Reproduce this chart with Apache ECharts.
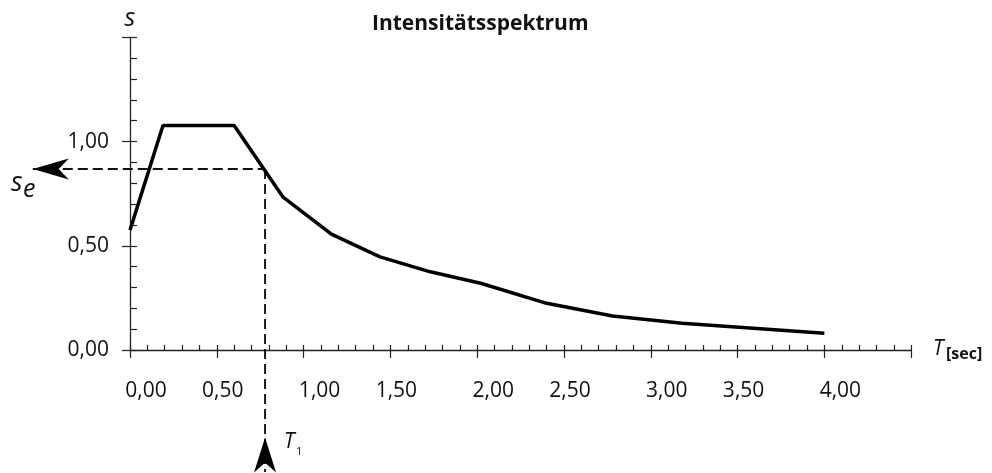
<!DOCTYPE html>
<html>
<head>
<meta charset="utf-8">
<script src="https://cdn.jsdelivr.net/npm/echarts@6/dist/echarts.min.js"></script>
<style>html,body{margin:0;padding:0;background:#fff}#c{width:992px;height:473px}</style>
</head>
<body>
<div id="c"></div>
<script>
// Spectrum curve (T in seconds, S)
const periods = [0, 0.19, 0.60, 0.88, 1.16, 1.44, 1.73, 2.02, 2.40, 2.78, 3.18, 4.00];
const spectrum = [0.575, 1.077, 1.077, 0.735, 0.556, 0.447, 0.375, 0.320, 0.224, 0.163, 0.128, 0.080];
// Reading construction
const T1 = 0.778;
const Se = 0.868;
const arrowLeftT = -0.56;
const arrowBottomS = -0.42;
const lineBottomS = -0.585;
const xTicks = [0, 0.5, 1.0, 1.5, 2.0, 2.5, 3.0, 3.5, 4.0];
const yTicks = [0, 0.5, 1.0];
const title = 'Intensitätsspektrum';

const fmt = v => v.toFixed(2).replace('.', ',');
const FONT = 'Open Sans';

const curve = periods.map((t, i) => [t, spectrum[i]]);
const dashedH = [[arrowLeftT, Se], [T1, Se]];
const dashedV = [[T1, Se], [T1, lineBottomS]];

const chart = echarts.init(document.getElementById('c'), null, {renderer: 'canvas'});

const axisLine = {show: true, lineStyle: {color: '#222', width: 1.3}};
const dashedSeries = (data) => ({
  type: 'custom', xAxisIndex: 0, yAxisIndex: 0, clip: false, z: 1,
  data: [0],
  renderItem: (params, api) => {
    const a = api.coord(data[0]);
    const b = api.coord(data[1]);
    return {type: 'line', shape: {x1: a[0], y1: a[1], x2: b[0], y2: b[1]},
      style: {stroke: '#111', lineWidth: 1.9, lineDash: [10, 5], fill: null}};
  }
});

const option = {
  animation: false,
  textStyle: {fontFamily: FONT},
  grid: {left: 130, right: 80.8, top: 37.3, bottom: 123},
  xAxis: [
    {type: 'value', min: 0, max: 4.5, interval: 0.5,
     axisLine: axisLine,
     axisTick: {show: true, inside: true, length: 5, lineStyle: {color: '#222', width: 1.2}},
     minorTick: {show: true, splitNumber: 5, length: 5, lineStyle: {color: '#222', width: 1.2}},
     axisLabel: {show: false}, splitLine: {show: false}},
    {type: 'value', min: 0, max: 4.5, interval: 0.5, position: 'bottom',
     axisLine: {show: false},
     axisTick: {show: true, inside: false, length: 8, lineStyle: {color: '#222', width: 1.2}},
     splitLine: {show: false},
     axisLabel: {show: true, margin: 31, color: '#111', fontSize: 21, fontFamily: FONT,
       formatter: v => {
         if (xTicks.indexOf(v) < 0) return '';
         return (Math.abs(v - Math.round(v)) < 1e-9 ? '{w|' : '{h|') + fmt(v) + '}';
       },
       rich: {w: {padding: [0, 0, 0, 32], fontSize: 21, color: '#111', fontFamily: FONT},
              h: {padding: [0, 0, 0, 12], fontSize: 21, color: '#111', fontFamily: FONT}}}}
  ],
  yAxis: [
    {type: 'value', min: 0, max: 1.5, interval: 0.5,
     axisLine: axisLine,
     axisTick: {show: true, inside: true, length: 7, lineStyle: {color: '#222', width: 1.2}},
     minorTick: {show: true, splitNumber: 5, length: 7, lineStyle: {color: '#222', width: 1.2}},
     axisLabel: {show: false}, splitLine: {show: false}},
    {type: 'value', min: 0, max: 1.5, interval: 0.5, position: 'left',
     axisLine: {show: false},
     axisTick: {show: true, inside: false, length: 8, lineStyle: {color: '#222', width: 1.2}},
     splitLine: {show: false},
     axisLabel: {show: true, margin: 21, color: '#111', fontSize: 21, fontFamily: FONT,
       formatter: v => yTicks.indexOf(v) < 0 ? '' : fmt(v)},
     name: 's', nameLocation: 'end', nameGap: 6,
     nameTextStyle: {fontStyle: 'italic', fontSize: 25, color: '#111', fontFamily: FONT, align: 'center'}}
  ],
  series: [
    {type: 'line', data: curve, xAxisIndex: 0, yAxisIndex: 0, symbol: 'none', z: 2,
     lineStyle: {color: '#000', width: 3.5}},
    dashedSeries(dashedH),
    dashedSeries(dashedV),
    {type: 'scatter', xAxisIndex: 0, yAxisIndex: 0, clip: false, z: 3,
     itemStyle: {color: '#000', opacity: 1},
     data: [
       {value: [arrowLeftT, Se], symbol: 'path://M0,5 L10,0 L7.2,5 L10,10 Z', symbolSize: [36, 21], symbolOffset: [18, 0]},
       {value: [T1, arrowBottomS], symbol: 'path://M5,0 L10,10 L5,7.2 L0,10 Z', symbolSize: [22, 35], symbolOffset: [0, 17.5]}
     ]}
  ],
  graphic: [
    {type: 'text', left: 372, top: 14,
     style: {text: title, fontSize: 21, fontWeight: 'bold', fontFamily: FONT, fill: '#111'}},
    {type: 'text', left: 11, top: 170, style: {text: 's', fontSize: 27, fontStyle: 'italic', fontFamily: FONT, fill: '#111'}},
    {type: 'text', left: 23, top: 177, style: {text: 'e', fontSize: 25, fontStyle: 'italic', fontFamily: FONT, fill: '#111'}},
    {type: 'text', left: 284, top: 432, style: {text: 'T', fontSize: 21, fontStyle: 'italic', fontFamily: FONT, fill: '#111'}},
    {type: 'text', left: 296, top: 446, style: {text: '1', fontSize: 11, fontFamily: FONT, fill: '#111'}},
    {type: 'text', left: 933, top: 339, style: {text: 'T', fontSize: 21, fontStyle: 'italic', fontFamily: FONT, fill: '#111'}},
    {type: 'text', left: 946, top: 346, style: {text: '[sec]', fontSize: 16, fontWeight: 'bold', fontFamily: FONT, fill: '#111'}}
  ]
};
chart.setOption(option);
</script>
</body>
</html>
